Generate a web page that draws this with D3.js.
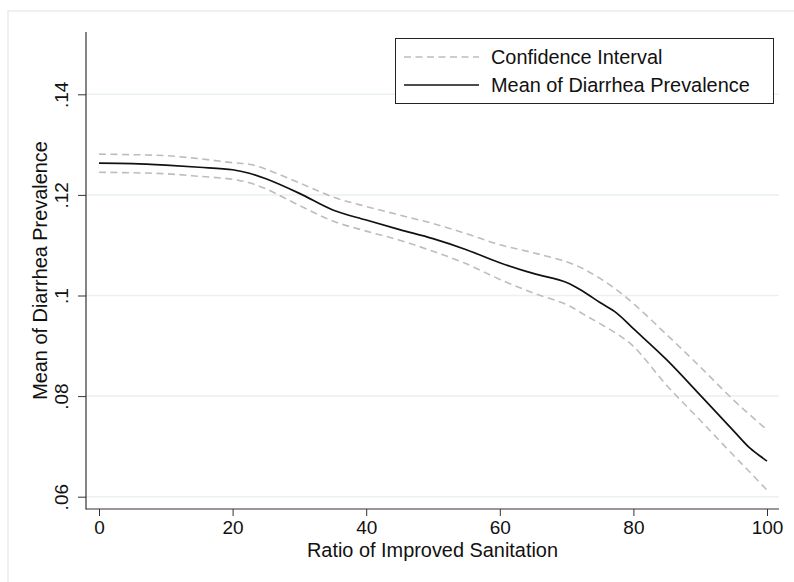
<!DOCTYPE html>
<html>
<head>
<meta charset="utf-8">
<script src="https://cdn.jsdelivr.net/npm/d3@7"></script>
<style>
  html, body { margin: 0; padding: 0; background: #fff; }
  svg { display: block; font-family: "Liberation Sans", Arial, Helvetica, sans-serif; }
</style>
</head>
<body>
<svg id="chart" width="794" height="582"></svg>
<script>
// ---- data ----
const xValues   = [0, 5, 10, 15, 20, 22.5, 25, 30, 35, 40, 45, 50, 55, 60, 65, 70, 72.5, 75, 77.5, 80, 85, 90, 95, 97.5, 100];
const meanVals  = [0.1263, 0.1262, 0.1259, 0.1255, 0.1250, 0.1243, 0.1232, 0.1203, 0.1170, 0.1150, 0.1131, 0.1113, 0.1091, 0.1065, 0.1044, 0.1026, 0.1008, 0.0986, 0.0965, 0.0934, 0.0872, 0.0802, 0.0731, 0.0696, 0.0671];
const upperVals = [0.1281, 0.1280, 0.1278, 0.1272, 0.1264, 0.1261, 0.1251, 0.1224, 0.1196, 0.1177, 0.1160, 0.1143, 0.1123, 0.1101, 0.1085, 0.1067, 0.1053, 0.1034, 0.1011, 0.0984, 0.0922, 0.0858, 0.0792, 0.0762, 0.0733];
const lowerVals = [0.1245, 0.1244, 0.1242, 0.1237, 0.1231, 0.1224, 0.1212, 0.1179, 0.1148, 0.1128, 0.1110, 0.1088, 0.1063, 0.1032, 0.1005, 0.0982, 0.0963, 0.0944, 0.0924, 0.0899, 0.0821, 0.0752, 0.0682, 0.0648, 0.0613];
const xTicks = [0, 20, 40, 60, 80, 100];
const yTicks = [0.06, 0.08, 0.10, 0.12, 0.14];
const yTickLabels = [".06", ".08", ".1", ".12", ".14"];
const xTitle = "Ratio of Improved Sanitation";
const yTitle = "Mean of Diarrhea Prevalence";
const legendLabels = ["Confidence Interval", "Mean of Diarrhea Prevalence"];

// ---- layout ----
const svg = d3.select("#chart");
const plotL = 86, plotR = 779, plotT = 32, plotB = 509;
const x = d3.scaleLinear().domain([0, 100]).range([99, 767]);
const y = d3.scaleLinear().domain([0.06, 0.14]).range([496.7, 94.3]);

svg.append("rect").attr("width", 794).attr("height", 582).attr("fill", "#fff");

// faint outer frame
svg.append("path")
  .attr("d", `M8,582 L8,11 L794,11`)
  .attr("fill", "none").attr("stroke", "#e6eeef").attr("stroke-width", 1.5);

// gridlines
svg.append("g").selectAll("line").data(yTicks).join("line")
  .attr("x1", plotL).attr("x2", plotR)
  .attr("y1", d => y(d)).attr("y2", d => y(d))
  .attr("stroke", "#e9f1f3").attr("stroke-width", 1.5);

// axes
const xAxis = d3.axisBottom(x).tickValues(xTicks).tickSize(7).tickPadding(5).tickFormat(d3.format("d"));
const gx = svg.append("g").attr("transform", `translate(0,${plotB})`).call(xAxis);
gx.select(".domain").remove();
gx.selectAll(".tick line").attr("stroke", "#333");
gx.selectAll(".tick text").attr("font-size", 19).attr("fill", "#111")
  .attr("font-family", "'Liberation Sans', Arial, sans-serif");

const yAxis = d3.axisLeft(y).tickValues(yTicks).tickSize(8).tickFormat((d, i) => yTickLabels[i]);
const gy = svg.append("g").attr("transform", `translate(${plotL},0)`).call(yAxis);
gy.select(".domain").remove();
gy.selectAll(".tick line").attr("stroke", "#333");
gy.selectAll(".tick text")
  .attr("font-size", 19).attr("fill", "#111")
  .attr("font-family", "'Liberation Sans', Arial, sans-serif")
  .attr("text-anchor", "middle")
  .attr("dy", null)
  .attr("x", null)
  .attr("transform", "translate(-18,0) rotate(-90)");

svg.append("line").attr("x1", plotL).attr("x2", plotL).attr("y1", plotT).attr("y2", plotB + 0.5)
  .attr("stroke", "#333").attr("stroke-width", 1.2);
svg.append("line").attr("x1", plotL).attr("x2", plotR).attr("y1", plotB).attr("y2", plotB)
  .attr("stroke", "#333").attr("stroke-width", 1.2);

// titles
svg.append("text").attr("x", (plotL + plotR) / 2).attr("y", 557)
  .attr("text-anchor", "middle").attr("font-size", 19.9).attr("fill", "#111").text(xTitle);
svg.append("text").attr("transform", `translate(46.5,${(plotT + plotB) / 2}) rotate(-90)`)
  .attr("text-anchor", "middle").attr("font-size", 19.9).attr("fill", "#111").text(yTitle);

// lines
const line = vals => d3.line().x((d, i) => x(xValues[i])).y(d => y(d)).curve(d3.curveCatmullRom.alpha(0.5))(vals);
svg.append("path").attr("d", line(upperVals)).attr("fill", "none")
  .attr("stroke", "#bdbdbd").attr("stroke-width", 1.6).attr("stroke-dasharray", "7,4.5");
svg.append("path").attr("d", line(lowerVals)).attr("fill", "none")
  .attr("stroke", "#bdbdbd").attr("stroke-width", 1.6).attr("stroke-dasharray", "7,4.5");
svg.append("path").attr("d", line(meanVals)).attr("fill", "none")
  .attr("stroke", "#111").attr("stroke-width", 1.7);

// legend
const lg = svg.append("g");
lg.append("rect").attr("x", 395.5).attr("y", 38.5).attr("width", 378).attr("height", 65)
  .attr("fill", "#fff").attr("stroke", "#222").attr("stroke-width", 1);
const legendStyles = [
  { stroke: "#bdbdbd", dash: "7,4.5", w: 1.6 },
  { stroke: "#111", dash: null, w: 1.7 }
];
legendLabels.forEach((lab, i) => {
  const yy = 57 + i * 28;
  lg.append("line").attr("x1", 404).attr("x2", 479).attr("y1", yy).attr("y2", yy)
    .attr("stroke", legendStyles[i].stroke).attr("stroke-width", legendStyles[i].w)
    .attr("stroke-dasharray", legendStyles[i].dash);
  lg.append("text").attr("x", 491).attr("y", yy + 7).attr("font-size", 19.9).attr("fill", "#111").text(lab);
});
</script>
</body>
</html>
